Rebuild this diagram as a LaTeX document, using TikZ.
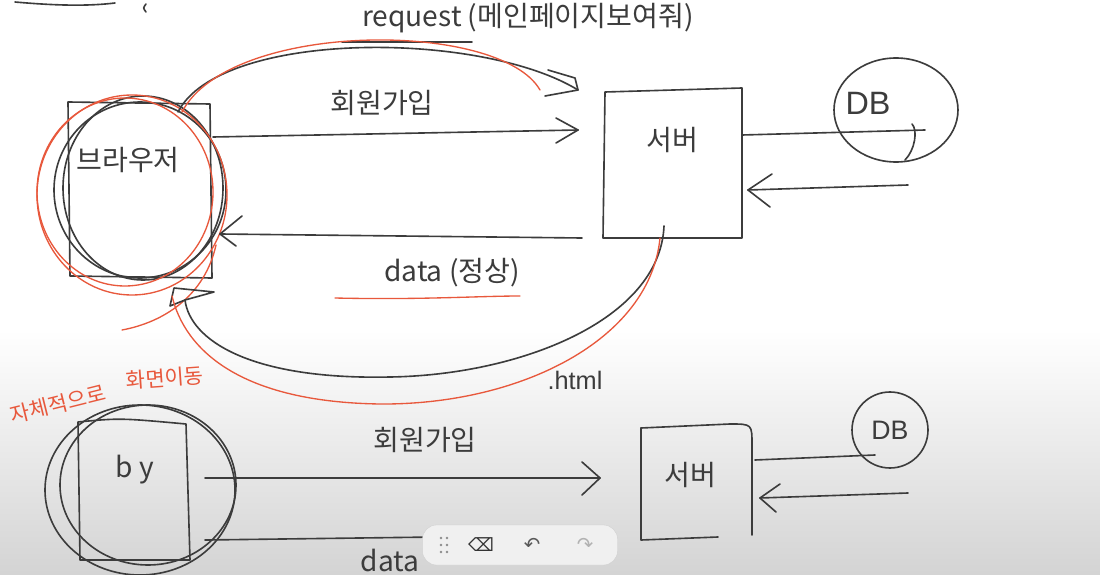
\documentclass[tikz,border=0pt]{standalone}
\usepackage{fontspec}
\setmainfont{Liberation Sans}
\newfontfamily\kr{Noto Sans CJK KR}[Scale=1]
\usetikzlibrary{calc,shapes.geometric}
\definecolor{ink}{HTML}{3C3C3C}
\definecolor{redink}{HTML}{E8583C}
\begin{document}
\begin{tikzpicture}[x=0.05cm,y=-0.05cm,
  pen/.style={draw=ink,line width=2.3pt,line cap=round,line join=round},
  rpen/.style={draw=redink,line width=1.9pt,line cap=round,line join=round},
  lbl/.style={text=ink,inner sep=0pt,font=\kr\fontsize{40}{40}\selectfont},
  rlbl/.style={text=redink,inner sep=0pt,font=\kr\fontsize{30}{30}\selectfont},
]
\useasboundingbox (0,0) rectangle (1100,575);
\fill[white] (0,0) rectangle (1100,575);
\shade[top color=white,bottom color=black!17] (0,330) rectangle (1100,575);

% --- top scribbles
\draw[pen] (15,2) .. controls (60,6) and (90,6) .. (115,3);
\draw[pen] (146,4) .. controls (143,8) .. (146,12);

% --- top labels
\node[lbl,anchor=center] (req) at (528,18) {request (메인페이지보여줘)};
\coordinate (ul1) at (342,42); \coordinate (ul2) at (472,42);
\draw[pen] (ul1) -- (ul2);

% --- browser box (top)
\draw[pen] (68,102) -- (210,104) -- (212,278) -- (70,276) -- cycle;
\node[lbl] (brt) at (128,160) {브라우저};
\draw[pen] (140,190) ellipse (86 and 88);
\draw[pen] (143,188) ellipse (80 and 92);
\draw[rpen] (125,192) ellipse (88 and 94);
\draw[rpen] (132,195) ellipse (95 and 100);
\draw[rpen] (216,245) .. controls (205,295) and (165,322) .. (122,330);

% --- server box (top)
\draw[pen] (605,92) -- (742,88) -- (742,238) -- (603,238) -- cycle;
\node[lbl] (srv) at (672,140) {서버};

% --- DB (top)
\node[pen,ellipse,minimum width=6.2cm,minimum height=5.2cm,inner sep=0pt] (db) at (896,110) {};
\node[lbl,font=\fontsize{46}{46}\selectfont] (dbt) at (868,103) {DB};

% --- request arcs
\coordinate (rqS) at (178,112);
\coordinate (rqE) at (578,90);
\draw[pen] (rqS) .. controls (220,30) and (480,30) .. (rqE);
\draw[pen] (548,70) -- (575,78) -- (rqE) -- (545,96);
\draw[rpen] (182,112) .. controls (230,20) and (500,20) .. (540,90);

% --- 회원가입 arrow
\node[lbl] (join) at (382,103) {회원가입};
\coordinate (jS) at (213,137); \coordinate (jE) at (578,130);
\draw[pen] (jS) -- (jE);
\draw[pen] (556,118) -- (jE) -- (556,143);

% --- server <-> DB
\coordinate (sdS) at (742,135); \coordinate (sdE) at (925,130);
\draw[pen] (sdS) -- (sdE);
\draw[pen] (912,124) .. controls (918,130) and (915,150) .. (905,160);
\coordinate (dsS) at (908,185); \coordinate (dsE) at (748,190);
\draw[pen] (dsS) -- (dsE);
\draw[pen] (772,174) -- (dsE) -- (770,207);

% --- data arrow
\coordinate (dS) at (582,238); \coordinate (dE) at (220,234);
\draw[pen] (dS) -- (dE);
\draw[pen] (242,216) -- (dE) -- (236,246);
\node[lbl] (data) at (452,273) {data (정상)};
\draw[rpen] (335,298) .. controls (420,300) and (480,296) .. (520,296);

% --- big return curves
\coordinate (hS) at (664,226);
\coordinate (hE) at (185,300);
\draw[pen] (hS) .. controls (660,320) and (520,375) .. (390,377)
               .. controls (250,380) and (190,340) .. (hE);
\draw[pen] (hE) -- (170,306) -- (174,288) -- (214,292) -- (185,300);
\draw[rpen] (660,238) .. controls (650,340) and (520,405) .. (380,404)
               .. controls (240,402) and (185,350) .. (172,296);
\node[lbl,font=\fontsize{36}{36}\selectfont] (html) at (575,380) {.html};

% --- red note
\node[rlbl,rotate=14] (note1) at (58,404) {자체적으로};
\node[rlbl,rotate=4] (note2) at (165,378) {화면이동};

% --- bottom browser
\draw[pen] (78,422) .. controls (120,418) .. (186,424) -- (190,560) -- (80,560) -- cycle;
\draw[pen] (140,490) ellipse (95 and 85);
\draw[pen] (148,485) ellipse (88 and 80);
\node[lbl] (app) at (135,470) {b y};

% --- bottom 회원가입 arrow
\node[lbl] (join2) at (425,440) {회원가입};
\coordinate (j2S) at (205,478); \coordinate (j2E) at (600,478);
\draw[pen] (j2S) -- (j2E);
\draw[pen] (582,462) -- (j2E) -- (582,495);

% --- bottom server
\draw[pen] (641,428) -- (641,540) -- (718,537);
\draw[pen] (641,428) -- (730,424) .. controls (752,424) .. (752,445) -- (752,535);
\node[lbl] (srv2) at (690,475) {서버};

% --- bottom DB
\node[pen,circle,minimum size=3.8cm,inner sep=0pt] (db2) at (890,430) {};
\node[lbl,font=\fontsize{38}{38}\selectfont] (db2t) at (890,430) {DB};
\coordinate (sd2S) at (755,460); \coordinate (sd2E) at (875,455);
\draw[pen] (sd2S) -- (sd2E);
\coordinate (ds2S) at (908,493); \coordinate (ds2E) at (760,498);
\draw[pen] (ds2S) -- (ds2E);
\draw[pen] (780,484) -- (ds2E) -- (776,512);

% --- bottom data
\coordinate (d2S) at (590,535); \coordinate (d2E) at (205,540);
\draw[pen] (d2S) -- (d2E);
\node[lbl] (data2) at (390,560) {data};

% --- toolbar overlay
\node[draw=black!20,fill=black!6,rounded corners=20pt,minimum width=9.75cm,minimum height=2cm,inner sep=0pt] (tb) at (520,545) {};
\foreach \dx in {0,6} \foreach \dy in {-7,0,7}
  \fill[black!45] (441+\dx,545+\dy) circle (1.3);
\node[inner sep=0pt,font=\fontsize{26}{26}\selectfont,text=black!80] (er) at (481,545) {\fontspec{DejaVu Sans}⌫};
\node[inner sep=0pt,font=\fontsize{28}{28}\selectfont,text=black!65] (un) at (532,545) {\fontspec{DejaVu Sans}↶};
\node[inner sep=0pt,font=\fontsize{28}{28}\selectfont,text=black!30] (re) at (585,545) {\fontspec{DejaVu Sans}↷};
\end{tikzpicture}
\end{document}
